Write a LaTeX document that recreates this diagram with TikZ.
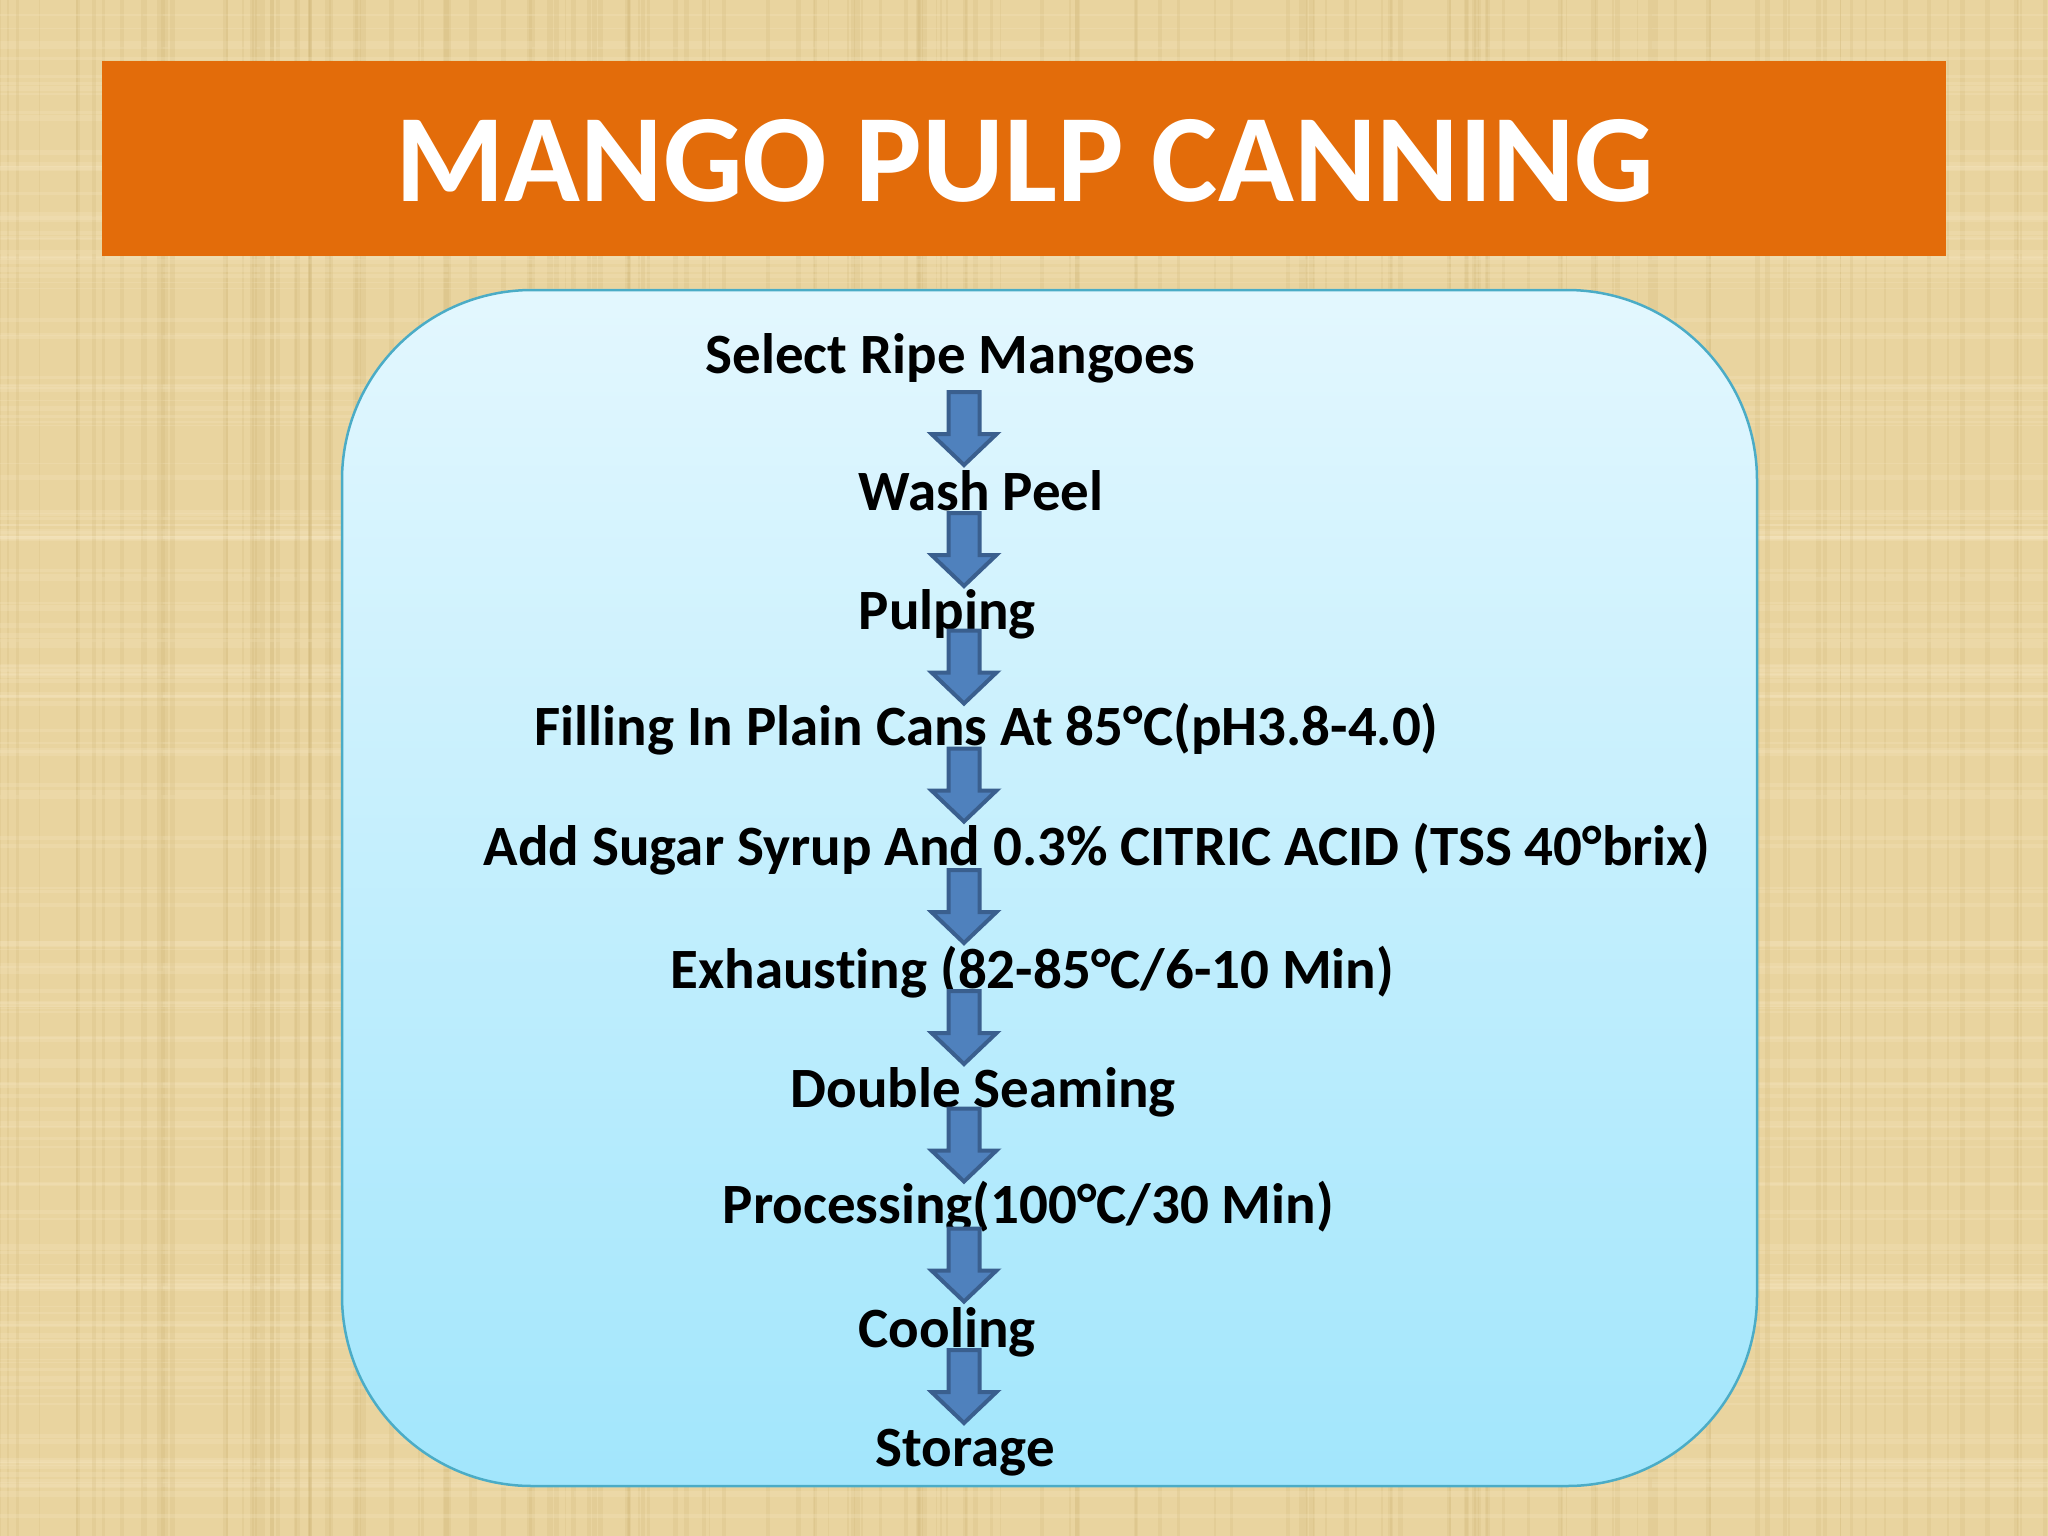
\documentclass[tikz,border=0pt]{standalone}
\usepackage{fontspec}
\setmainfont{Carlito}[Ligatures=NoCommon]
\usetikzlibrary{calc}
\definecolor{paper}{HTML}{E9D49F}
\definecolor{paperdark}{HTML}{C9AE6E}
\definecolor{paperlight}{HTML}{F6E7C2}
\definecolor{banner}{HTML}{E36C0A}
\definecolor{boxtop}{HTML}{E3F7FE}
\definecolor{boxbot}{HTML}{A2E6FC}
\definecolor{boxline}{HTML}{4BACC6}
\definecolor{arrfill}{HTML}{4F81BD}
\definecolor{arrline}{HTML}{3A5F8E}
\tikzset{
	stepnode/.style={anchor=base west,inner sep=0pt,font=\fontsize{16.2}{20}\selectfont\bfseries},
	downarrow/.pic={\filldraw[fill=arrfill,draw=arrline,line width=0.04cm,line join=miter]
		(-15.5,-36.5)--(15.5,-36.5)--(15.5,5.5)--(32.5,5.5)--(0,36.5)--(-32.5,5.5)--(-15.5,5.5)--cycle;}
}
\begin{document}
\begin{tikzpicture}[x=0.01cm,y=-0.01cm,line join=round]
	\useasboundingbox (0,0) rectangle (2048,1536);
	\fill[paper] (0,0) rectangle (2048,1536);
	% woven paper texture
	\pgfmathsetseed{7}
	\foreach \i in {1,...,160}{
		\pgfmathsetmacro\u{2048*rnd}
		\pgfmathsetmacro\w{1+5*rnd}
		\draw[paperdark,opacity=0.18,line width=\w*0.01cm] (\u,0) -- (\u,1536);
		\pgfmathsetmacro\v{1536*rnd}
		\draw[paperlight,opacity=0.25,line width=\w*0.01cm] (0,\v) -- (2048,\v);
	}
	\fill[banner] (102,61) rectangle (1946,256);
	\node[text=white,font=\fontsize{35.6}{44}\selectfont\bfseries] (T) at (1025,161) {MANGO PULP CANNING};
	\shadedraw[top color=boxtop,bottom color=boxbot,draw=boxline,line width=0.025cm,rounded corners=1.9cm]
		(342,290) rectangle (1757,1486);
	\coordinate (X) at (964,0);
	\path
		(705,373) node[stepnode] (S1) {Select Ripe Mangoes}
		(858,510) node[stepnode] (S2) {Wash Peel}
		(858,629) node[stepnode] (S3) {Pulping}
		(534,745) node[stepnode] (S4) {Filling In Plain Cans At 85°C(pH3.8-4.0)}
		(483,865) node[stepnode] (S5) {Add Sugar Syrup And 0.3\% CITRIC ACID (TSS 40°brix)}
		(670,988) node[stepnode] (S6) {Exhausting (82-85°C/6-10 Min)}
		(790,1107) node[stepnode] (S7) {Double Seaming}
		(722,1223) node[stepnode] (S8) {Processing(100°C/30 Min)}
		(858,1347) node[stepnode] (S9) {Cooling}
		(875,1466) node[stepnode] (S10) {Storage}
		;
	\foreach \a/\b/\s in {S1/S2/-13,S2/S3/-20,S3/S4/-20,S4/S5/-20,S5/S6/-20,S6/S7/-20,S7/S8/-20,S8/S9/-20,S9/S10/-20}
		\pic at ($(X|-\a.base)!0.5!(X|-\b.base)+(0,\s)$) {downarrow};
\end{tikzpicture}
\end{document}
